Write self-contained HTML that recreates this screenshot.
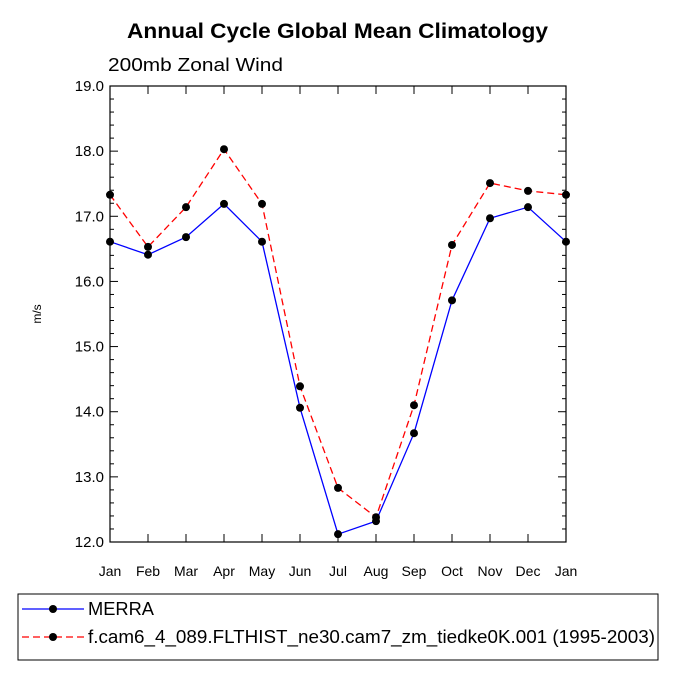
<!DOCTYPE html>
<html><head><meta charset="utf-8"><style>
body{margin:0;background:#fff;}
svg text{font-family:"Liberation Sans",Helvetica,sans-serif;}
</style></head><body>
<svg id="c" width="675" height="675" xmlns="http://www.w3.org/2000/svg">
<text x="127" y="38" font-size="21" font-weight="bold" textLength="421" lengthAdjust="spacingAndGlyphs">Annual Cycle Global Mean Climatology</text>
<text x="108" y="71" font-size="18" textLength="175" lengthAdjust="spacingAndGlyphs">200mb Zonal Wind</text>
<text x="41" y="314" font-size="12" text-anchor="middle" transform="rotate(-90 41 314)">m/s</text>
<g id="axes"></g>
<g id="series"></g>
<rect x="18" y="594" width="640" height="66" fill="none" stroke="#000" stroke-width="1"/>
<g>
<line x1="22" y1="609" x2="84" y2="609" stroke="#0000ff" stroke-width="1.3"/>
<circle cx="53" cy="609" r="4" fill="#000"/>
<text x="88" y="615" font-size="18" textLength="66" lengthAdjust="spacingAndGlyphs">MERRA</text>
</g>
<g>
<line x1="22" y1="637" x2="84" y2="637" stroke="#ff0000" stroke-width="1.3" stroke-dasharray="7,4"/>
<circle cx="53" cy="637" r="4" fill="#000"/>
<text x="88" y="643" font-size="18" textLength="567" lengthAdjust="spacingAndGlyphs">f.cam6_4_089.FLTHIST_ne30.cam7_zm_tiedke0K.001 (1995-2003)</text>
</g>
</svg>
<script>
const months=["Jan","Feb","Mar","Apr","May","Jun","Jul","Aug","Sep","Oct","Nov","Dec","Jan"];
const merra=[16.61,16.41,16.68,17.19,16.61,14.06,12.12,12.32,13.67,15.71,16.97,17.14,16.61];
const model=[17.33,16.53,17.14,18.03,17.19,14.39,12.83,12.38,14.10,16.56,17.51,17.39,17.33];
const yTicks=[12,13,14,15,16,17,18,19];
const NS="http://www.w3.org/2000/svg";
const L=110,R=566,T=86,B=542,ymin=12,ymax=19;
const x=i=>L+(R-L)*i/(months.length-1);
const y=v=>B-(B-T)*(v-ymin)/(ymax-ymin);
function mk(t,a,p){const e=document.createElementNS(NS,t);for(const k in a)e.setAttribute(k,a[k]);p.appendChild(e);return e;}
const ax=document.getElementById('axes');
const fr=mk('rect',{x:L,y:T,width:R-L,height:B-T,fill:'none',stroke:'#000','stroke-width':1.2},ax);


for(let v=ymin;v<=ymax+1e-9;v+=0.2){
  const maj=Math.abs(v-Math.round(v))<1e-6;const len=maj?8:4;const yy=y(v);
  mk('line',{x1:L,y1:yy,x2:L+len,y2:yy,stroke:'#000'},ax);
  mk('line',{x1:R,y1:yy,x2:R-len,y2:yy,stroke:'#000'},ax);
}
yTicks.forEach(v=>{const t=mk('text',{x:L-6,y:y(v)+5,'text-anchor':'end','font-size':15},ax);t.textContent=v.toFixed(1);

});
months.forEach((m,i)=>{const xx=x(i);
  mk('line',{x1:xx,y1:B,x2:xx,y2:B-8,stroke:'#000'},ax);
  mk('line',{x1:xx,y1:T,x2:xx,y2:T+8,stroke:'#000'},ax);
  const t=mk('text',{x:xx,y:B+34,'text-anchor':'middle','font-size':14},ax);t.textContent=m;
  
  });
const sg=document.getElementById('series');
function draw(vals,col,dash,name){
  const g=mk('g',{},sg);
  
  
  const pl=mk('polyline',{points:vals.map((v,i)=>x(i)+','+y(v)).join(' '),fill:'none',stroke:col,'stroke-width':1.3},g);
  if(dash)pl.setAttribute('stroke-dasharray','7,4');
  vals.forEach((v,i)=>{const c=mk('circle',{cx:x(i),cy:y(v),r:4,fill:'#000'},g);
  
  });
}
draw(merra,'#0000ff',false,'series-merra');
draw(model,'#ff0000',true,'series-model');
</script>
</body></html>
